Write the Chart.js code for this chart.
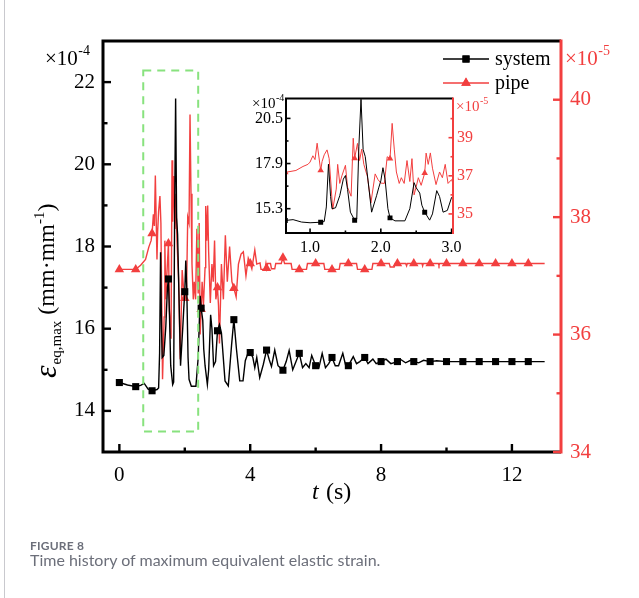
<!DOCTYPE html>
<html>
<head>
<meta charset="utf-8">
<script src="https://cdn.jsdelivr.net/npm/chart.js@4.4.0/dist/chart.umd.min.js"></script>
<style>
  body { margin: 0; background: #fff; }
  #page { position: relative; width: 639px; height: 598px; overflow: hidden; background: #fff; }
  #rule { position: absolute; left: 4px; top: 0; width: 1px; height: 598px; background: #c9c9ce; }
  #main { position: absolute; left: 0; top: 0; }
  #inset { position: absolute; left: 240px; top: 85px; }
  .cap { position: absolute; left: 30px; font-family: Lato, "Open Sans", sans-serif; color: #6c6f7a; white-space: nowrap; }
  #capHead { top: 538px; font-size: 12px; font-weight: 700; letter-spacing: 0.2px; }
  #capText { top: 550px; font-size: 16px; font-weight: 400; }
</style>
</head>
<body>
<div id="page">
  <div id="rule"></div>
  <canvas id="main" width="639" height="598"></canvas>
  <canvas id="inset" width="270" height="180"></canvas>
  <div class="cap" id="capHead">FIGURE 8</div>
  <div class="cap" id="capText">Time history of maximum equivalent elastic strain.</div>
</div>
<script>
const SERIF = '"Liberation Serif", "Times New Roman", serif';
const RED = '#f23f3f';
const GREEN = '#88e27e';

// system: time (s) and max equivalent strain (x1e-4)
const sysT = [0, 0.25, 0.5, 0.65, 0.76, 0.88, 1.0, 1.15, 1.2, 1.23, 1.26, 1.29, 1.31, 1.36, 1.42, 1.47, 1.5, 1.53, 1.57,
  1.63, 1.66, 1.69, 1.72, 1.75, 1.78, 1.82, 1.87, 1.94, 1.97, 2.0, 2.03, 2.06, 2.1, 2.13, 2.2, 2.34, 2.41, 2.47, 2.5,
  2.55, 2.58, 2.62, 2.69, 2.73, 2.79, 2.83, 2.88, 2.94, 3.0, 3.06, 3.12, 3.23, 3.33, 3.43, 3.5, 3.58, 3.68, 3.78, 3.85,
  3.93, 4.0, 4.08, 4.14, 4.2, 4.29, 4.4, 4.5, 4.58, 4.65, 4.75, 4.85, 4.92, 5.0, 5.1, 5.19, 5.3, 5.4, 5.5, 5.6, 5.7,
  5.8, 5.88, 6.0, 6.1, 6.2, 6.3, 6.4, 6.5, 6.6, 6.7, 6.83, 6.92, 7.0, 7.15, 7.25, 7.35, 7.5, 7.6, 7.75, 7.85, 8.0,
  8.15, 8.3, 8.5, 8.6, 8.75, 8.9, 9.0, 9.15, 9.3, 9.5, 9.7, 10.0, 10.5, 11.0, 11.5, 12.0, 12.5, 13.0];
const sysV = [14.69, 14.63, 14.59, 14.62, 14.67, 14.53, 14.49, 14.52, 14.56, 15.4, 17.86, 16.0, 15.3, 15.35, 16.05, 17.0, 17.21, 16.4, 15.1,
  14.64, 14.7, 18.9, 21.6, 18.7, 18.3, 16.9, 15.1, 16.05, 16.5, 16.9, 17.66, 17.0, 15.3, 14.77, 14.6, 14.6, 15.3, 16.8, 16.5,
  16.2, 15.5, 15.1, 14.64, 15.0, 16.34, 16.0, 15.1, 15.2, 15.95, 16.1, 15.9, 14.73, 14.61, 15.6, 16.22, 15.5, 14.73, 14.73, 15.22,
  15.4, 15.42, 15.3, 15.05, 15.3, 14.81, 15.13, 15.48, 15.25, 15.08, 15.48, 15.1, 15.05, 14.99, 15.2, 15.47, 15.0, 15.2, 15.4, 15.05, 15.15,
  15.05, 15.35, 15.1, 15.05, 15.4, 15.05, 15.15, 15.3, 15.1, 15.1, 15.4, 15.1, 15.1, 15.32, 15.15, 15.2, 15.3, 15.15, 15.26, 15.15, 15.2,
  15.26, 15.15, 15.2, 15.25, 15.17, 15.23, 15.2, 15.17, 15.23, 15.2, 15.22, 15.2, 15.2, 15.2, 15.2, 15.2, 15.2, 15.2];

// pipe: time (s) and max equivalent strain (x1e-5)
const pipeT = [0, 0.5, 0.65, 0.8, 0.9, 0.97, 1.0, 1.04, 1.07, 1.1, 1.15, 1.17, 1.2, 1.24, 1.27, 1.32, 1.37, 1.39, 1.42, 1.45,
  1.5, 1.53, 1.58, 1.61, 1.63, 1.67, 1.7, 1.73, 1.76, 1.81, 1.86, 1.92, 1.96, 2.0, 2.05, 2.09, 2.13, 2.16, 2.19, 2.22,
  2.26, 2.29, 2.33, 2.37, 2.41, 2.44, 2.47, 2.5, 2.53, 2.57, 2.62, 2.64, 2.67, 2.7, 2.73, 2.78, 2.83, 2.87, 2.91, 2.95,
  3.0, 3.03, 3.06, 3.12, 3.18, 3.24, 3.3, 3.37, 3.44, 3.5, 3.57, 3.64, 3.72, 3.79, 3.87, 3.94, 4.0, 4.05, 4.1, 4.14,
  4.2, 4.3, 4.33, 4.45, 4.48, 4.5, 4.53, 4.62, 4.65, 4.75, 4.78, 4.95, 5.0, 5.05, 5.25, 5.28, 5.5, 5.72, 5.75, 6.0,
  6.25, 6.28, 6.5, 6.72, 6.75, 7.0, 7.25, 7.28, 7.5, 7.72, 7.75, 8.0, 8.25, 8.28, 8.4, 8.43, 8.5, 8.75, 8.78, 8.8,
  9.0, 9.25, 9.27, 9.29, 9.5, 9.75, 9.77, 9.79, 10.0, 10.5, 11.0, 11.5, 12.0, 12.5, 13.0];
const pipeV = [37.11, 37.11, 37.18, 37.28, 37.49, 37.6, 37.72, 38.05, 37.85, 38.71, 37.28, 37.75, 38.1, 38.36, 37.9, 35.24, 36.3, 37.6, 36.6, 37.0,
  37.55, 36.4, 35.93, 38.97, 37.92, 38.7, 37.8, 38.4, 37.6, 36.97, 35.58, 37.1, 36.8, 36.62, 36.6, 38.0, 37.9, 39.75, 38.4, 37.2,
  36.6, 36.9, 36.6, 37.8, 36.7, 37.9, 36.0, 36.43, 36.9, 36.5, 37.14, 38.19, 37.6, 38.2, 37.4, 36.54, 37.2, 36.9, 37.6, 36.6,
  36.8, 36.5, 35.85, 37.2, 36.6, 37.69, 36.9, 37.5, 36.9, 36.79, 36.64, 37.2, 37.37, 37.41, 37.0, 37.3, 37.21, 37.12, 37.3, 37.44,
  37.2, 37.22, 37.11, 37.11, 37.21, 37.13, 37.21, 37.21, 37.12, 37.12, 37.21, 37.21, 37.31, 37.21, 37.21, 37.11, 37.11, 37.11, 37.21, 37.21,
  37.21, 37.11, 37.11, 37.11, 37.21, 37.21, 37.21, 37.11, 37.11, 37.11, 37.21, 37.21, 37.21, 37.15, 37.15, 37.21, 37.21, 37.21, 37.17, 37.21,
  37.21, 37.21, 37.17, 37.21, 37.21, 37.21, 37.18, 37.21, 37.21, 37.21, 37.21, 37.21, 37.21, 37.21, 37.21];

// symbol positions (s)
const mainMarks = [0, 0.5, 1.0, 1.5, 2.0, 2.5, 3.0, 3.5, 4.0, 4.5, 5.0, 5.5, 6.0, 6.5, 7.0, 7.5, 8.0, 8.5, 9.0, 9.5,
  10.0, 10.5, 11.0, 11.5, 12.0, 12.5];
const insetMarks = [0.65, 1.15, 1.63, 2.13, 2.62];

// axis ticks
const xTicks = [0, 4, 8, 12], xMinor = [2, 6, 10];
const sysTicks = [14, 16, 18, 20, 22], sysMinor = [15, 17, 19, 21];
const pipeTicks = [34, 36, 38, 40], pipeMinor = [35, 37, 39];
const inXTicks = [1, 2, 3], inXMinor = [1.5, 2.5];
const inSysTicks = [15.3, 17.9, 20.5], inSysMinor = [16.6, 19.2];
const inPipeTicks = [35, 37, 39], inPipeMinor = [36, 38, 40];

// window magnified by the inset
const zoomT = [0.73, 2.41], zoomE = [13.5, 22.28];

const pts = (ts, vs) => ts.map((t, i) => ({ x: t, y: vs[i] }));
const markAt = (list, r) => c => (c.raw && list.includes(c.raw.x) ? r : 0);
const setTicks = vals => s => { s.ticks = vals.map(v => ({ value: v })); };

function series(marks, rs, rp, lw) {
  return [
    { label: 'system', data: pts(sysT, sysV), yAxisID: 'y', borderColor: '#000', backgroundColor: '#000',
      borderWidth: lw, pointStyle: 'rect', pointRadius: markAt(marks, rs), pointBorderWidth: 0, pointHoverRadius: 0 },
    { label: 'pipe', data: pts(pipeT, pipeV), yAxisID: 'y2', borderColor: RED, backgroundColor: RED,
      borderWidth: lw, pointStyle: 'triangle', pointRadius: markAt(marks, rp), pointBorderWidth: 0, pointHoverRadius: 0 }
  ];
}

function tickScale(size, color, pad, extra) {
  return Object.assign({ grid: { display: false, drawTicks: false }, border: { display: false },
    ticks: { font: { family: SERIF, size: size }, color: color, padding: pad, autoSkip: false, maxRotation: 0 } }, extra);
}

function marks(ctx, a, scale, vals, len, side) {
  vals.forEach(v => {
    const p = scale.getPixelForValue(v);
    ctx.beginPath();
    if (side === 'left') { ctx.moveTo(a.left, p); ctx.lineTo(a.left + len, p); }
    if (side === 'right') { ctx.moveTo(a.right, p); ctx.lineTo(a.right - len, p); }
    if (side === 'bottom') { ctx.moveTo(p, a.bottom); ctx.lineTo(p, a.bottom - len); }
    ctx.stroke();
  });
}

function frame(ctx, a, s, lw, major, minor, ax) {
  ctx.save();
  ctx.lineCap = 'butt';
  ctx.strokeStyle = '#000';
  ctx.lineWidth = lw;
  ctx.beginPath();
  ctx.moveTo(a.right, a.top); ctx.lineTo(a.left, a.top); ctx.lineTo(a.left, a.bottom); ctx.lineTo(a.right, a.bottom);
  ctx.stroke();
  ctx.lineWidth = lw * 0.8;
  marks(ctx, a, s.x, ax.x, major, 'bottom'); marks(ctx, a, s.x, ax.xm, minor, 'bottom');
  marks(ctx, a, s.y, ax.y, major, 'left'); marks(ctx, a, s.y, ax.ym, minor, 'left');
  ctx.strokeStyle = RED;
  marks(ctx, a, s.y2, ax.p, major, 'right'); marks(ctx, a, s.y2, ax.pm, minor, 'right');
  ctx.lineWidth = lw;
  ctx.beginPath();
  ctx.moveTo(a.right, a.top - lw / 2); ctx.lineTo(a.right, a.bottom + lw / 2);
  ctx.stroke();
  ctx.restore();
}

// "x10^n" multiplier text
function power(ctx, x, y, exp, color, size) {
  ctx.save();
  ctx.fillStyle = color;
  ctx.textBaseline = 'middle';
  ctx.textAlign = 'left';
  ctx.font = size + 'px ' + SERIF;
  ctx.fillText('\u00d710', x, y);
  const w = ctx.measureText('\u00d710').width;
  ctx.font = Math.round(size * 0.66) + 'px ' + SERIF;
  ctx.fillText(exp, x + w + 0.5, y - size * 0.38);
  ctx.restore();
}

const mainDecor = {
  id: 'mainDecor',
  afterDatasetsDraw(chart) {
    const { ctx, chartArea: a, scales: s } = chart;
    // dashed window
    ctx.save();
    ctx.strokeStyle = GREEN;
    ctx.lineWidth = 2;
    ctx.setLineDash([8, 6]);
    const x0 = s.x.getPixelForValue(zoomT[0]), x1 = s.x.getPixelForValue(zoomT[1]);
    const y0 = s.y.getPixelForValue(zoomE[1]), y1 = s.y.getPixelForValue(zoomE[0]);
    ctx.strokeRect(x0, y0, x1 - x0, y1 - y0);
    ctx.restore();

    frame(ctx, a, s, 3, 8, 4.5, { x: xTicks, xm: xMinor, y: sysTicks, ym: sysMinor, p: pipeTicks, pm: pipeMinor });

    // legend
    ctx.save();
    const rows = [['system', '#000', 'rect', 59], ['pipe', RED, 'triangle', 83]];
    rows.forEach(([name, col, style, y]) => {
      ctx.strokeStyle = col;
      ctx.fillStyle = col;
      ctx.lineWidth = 1.5;
      ctx.beginPath(); ctx.moveTo(443, y); ctx.lineTo(489, y); ctx.stroke();
      Chart.helpers.drawPoint(ctx, { pointStyle: style, radius: style === 'rect' ? 5 : 5.5, borderWidth: 0 }, 466, y);
      ctx.fill();
      ctx.fillStyle = '#000';
      ctx.font = '20px ' + SERIF;
      ctx.textBaseline = 'middle';
      ctx.fillText(name, 495, y + 1);
    });
    ctx.restore();

    power(ctx, 45, 59, '-4', '#000', 21);
    power(ctx, 565, 59, '-5', RED, 21);

    // x title
    ctx.save();
    ctx.fillStyle = '#000';
    ctx.textBaseline = 'middle';
    ctx.font = 'italic 24px ' + SERIF;
    ctx.fillText('t', 312, 493);
    ctx.font = '24px ' + SERIF;
    ctx.fillText('(s)', 326, 493);
    ctx.restore();

    // y title, rotated
    ctx.save();
    ctx.translate(48, 378);
    ctx.rotate(-Math.PI / 2);
    ctx.fillStyle = '#000';
    ctx.textBaseline = 'middle';
    ctx.font = 'italic 32px ' + SERIF;
    ctx.fillText('\u03b5', 0, 0);
    let x = ctx.measureText('\u03b5').width + 1;
    ctx.font = '15px ' + SERIF;
    ctx.fillText('eq,max', x, 9);
    x += ctx.measureText('eq,max').width + 6;
    ctx.font = '24px ' + SERIF;
    ctx.fillText('(mm\u00b7mm', x, 0);
    x += ctx.measureText('(mm\u00b7mm').width;
    ctx.font = '15px ' + SERIF;
    ctx.fillText('-1', x, -8);
    x += ctx.measureText('-1').width;
    ctx.font = '24px ' + SERIF;
    ctx.fillText(')', x, 0);
    ctx.restore();
  }
};

new Chart(document.getElementById('main'), {
  type: 'line',
  data: { datasets: series(mainMarks, 5, 5.5, 1.4) },
  options: {
    responsive: false,
    animation: false,
    events: [],
    layout: { padding: { top: 41, left: 0, right: 0, bottom: 0 } },
    plugins: { legend: { display: false }, tooltip: { enabled: false } },
    elements: { line: { tension: 0 } },
    scales: {
      x: tickScale(21, '#000', 11, { type: 'linear', min: -0.5, max: 13.5, afterBuildTicks: setTicks(xTicks),
        afterFit: s => { s.height = 146; } }),
      y: tickScale(21, '#000', 8, { position: 'left', min: 13, max: 23, afterBuildTicks: setTicks(sysTicks),
        afterFit: s => { s.width = 103; } }),
      y2: tickScale(21, RED, 9, { position: 'right', min: 34, max: 41, afterBuildTicks: setTicks(pipeTicks),
        afterFit: s => { s.width = 78; } })
    }
  },
  plugins: [mainDecor]
});

const insetDecor = {
  id: 'insetDecor',
  beforeDatasetsDraw(chart) {
    const { ctx, chartArea: a } = chart;
    ctx.save();
    ctx.fillStyle = '#fff';
    ctx.fillRect(a.left, a.top, a.right - a.left, a.bottom - a.top);
    ctx.restore();
  },
  afterDatasetsDraw(chart) {
    const { ctx, chartArea: a, scales: s } = chart;
    frame(ctx, a, s, 2, 4.5, 2.5, { x: inXTicks, xm: inXMinor, y: inSysTicks, ym: inSysMinor, p: inPipeTicks, pm: inPipeMinor });
    power(ctx, 12, 19, '-4', '#000', 15);
    power(ctx, 216, 22, '-5', RED, 15);
  }
};

new Chart(document.getElementById('inset'), {
  type: 'line',
  data: { datasets: series(insetMarks, 3.5, 3.8, 1) },
  options: {
    responsive: false,
    animation: false,
    events: [],
    layout: { padding: { top: 12, left: 0, right: 0, bottom: 0 } },
    plugins: { legend: { display: false }, tooltip: { enabled: false } },
    elements: { line: { tension: 0 } },
    scales: {
      x: tickScale(16, '#000', 5, { type: 'linear', min: 0.66, max: 3.02, afterBuildTicks: setTicks(inXTicks),
        afterFit: s => { s.height = 32; }, ticks: { font: { family: SERIF, size: 16 }, color: '#000', padding: 5,
          autoSkip: false, maxRotation: 0, callback: v => v.toFixed(1) } }),
      y: tickScale(16, '#000', 3, { position: 'left', min: 13.9, max: 21.64, afterBuildTicks: setTicks(inSysTicks),
        afterFit: s => { s.width = 46; } }),
      y2: tickScale(16, RED, 4, { position: 'right', min: 34, max: 41.05, afterBuildTicks: setTicks(inPipeTicks),
        afterFit: s => { s.width = 57; } })
    }
  },
  plugins: [insetDecor]
});
</script>
</body>
</html>
